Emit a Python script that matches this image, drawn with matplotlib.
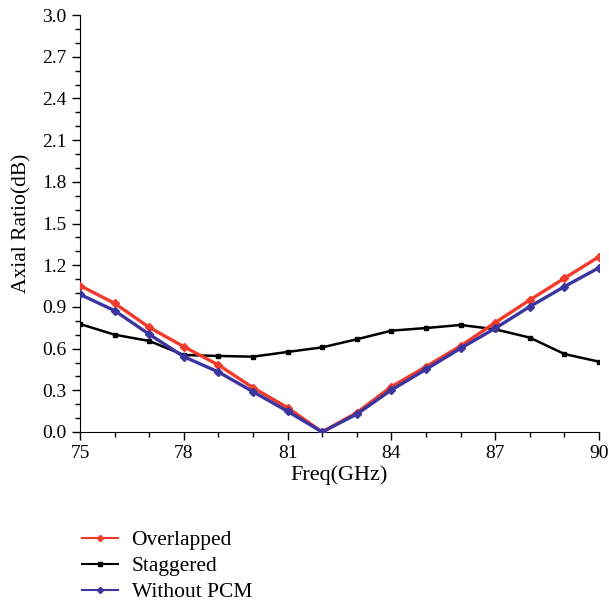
import matplotlib
matplotlib.use("Agg")
import matplotlib.pyplot as plt
from matplotlib.ticker import MultipleLocator, FormatStrFormatter

freq = list(range(75, 91))
overlapped = [1.053, 0.926, 0.753, 0.614, 0.482, 0.319, 0.175, 0.0,
              0.139, 0.326, 0.470, 0.619, 0.787, 0.950, 1.106, 1.261]
staggered = [0.777, 0.700, 0.655, 0.554, 0.547, 0.542, 0.576, 0.609,
             0.667, 0.729, 0.748, 0.770, 0.739, 0.679, 0.561, 0.506]
without_pcm = [0.990, 0.873, 0.703, 0.542, 0.432, 0.290, 0.149, 0.0,
               0.129, 0.302, 0.451, 0.602, 0.746, 0.902, 1.046, 1.182]

plt.rcParams['font.family'] = ['Liberation Serif', 'DejaVu Serif']

fig = plt.figure(figsize=(6.09, 6.03), dpi=100)
ax = fig.add_axes([80/609, 1-432/603, (599-80)/609, (432-15)/603])

ax.plot(freq, overlapped, color='#f03a2a', lw=2.4, marker='D', ms=4.5, label='Overlapped', zorder=3)
ax.plot(freq, staggered, color='black', lw=1.8, marker='s', ms=3.5, label='Staggered', zorder=2)
ax.plot(freq, without_pcm, color='#3b35a0', lw=2.4, marker='D', ms=4.5, label='Without PCM', zorder=4)

ax.set_xlim(75, 90)
ax.set_ylim(0, 3.0)
ax.xaxis.set_major_locator(MultipleLocator(3))
ax.xaxis.set_minor_locator(MultipleLocator(1))
ax.yaxis.set_major_locator(MultipleLocator(0.3))
ax.yaxis.set_minor_locator(MultipleLocator(0.1))
ax.yaxis.set_major_formatter(FormatStrFormatter('%.1f'))
for s in ['top', 'right']:
    ax.spines[s].set_visible(False)
ax.tick_params(which='major', length=6, width=1, labelsize=14, direction='out')
ax.tick_params(which='minor', length=3.5, width=1, direction='out')
ax.set_xlabel('Freq(GHz)', fontsize=16, labelpad=2)
ax.set_ylabel('Axial Ratio(dB)', fontsize=15.5, labelpad=8)

handles, labels = ax.get_legend_handles_labels()
fig.legend(handles, labels, loc='upper left', bbox_to_anchor=(82/609, 1-530/603),
           frameon=False, fontsize=15.5, handlelength=1.65, handletextpad=0.65,
           labelspacing=0.28, markerscale=0.7, borderpad=0, borderaxespad=0)
for h in fig.legends[0].get_lines():
    h.set_linewidth(1.5)

fig.savefig('out.png', dpi=100)
